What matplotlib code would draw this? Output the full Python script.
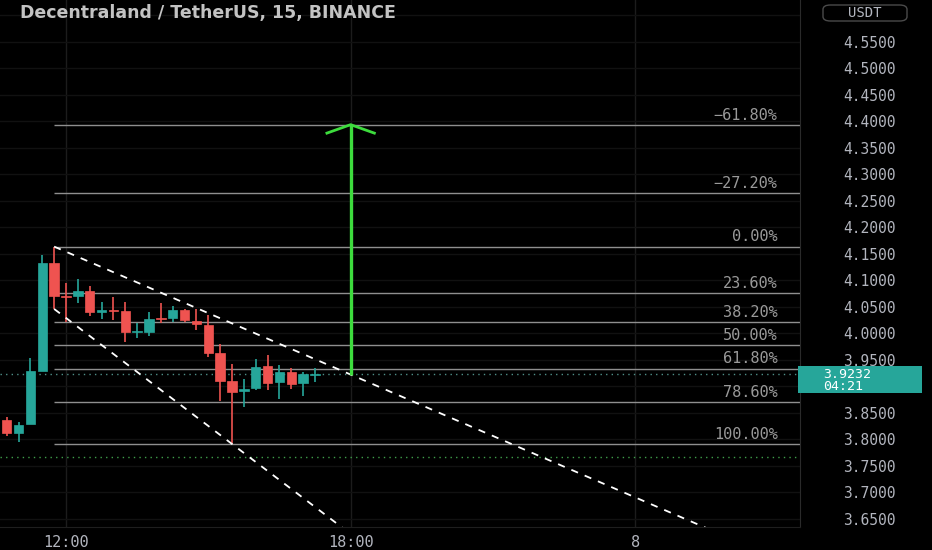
import numpy as np
import pandas as pd
import matplotlib
matplotlib.use('Agg')
import matplotlib.pyplot as plt
from matplotlib.patches import Rectangle, FancyBboxPatch

# Dados das velas (15 min, a partir de 10:45)
inicio = pd.Timestamp('2021-11-07 10:45')
abertura = [3.8368, 3.8123, 3.8292, 3.9298, 4.1325, 4.0713, 4.0713, 4.0808, 4.0411, 4.0443, 4.0430, 4.0023, 4.0034, 4.0298,
            4.0298, 4.0443, 4.0236, 4.0160, 3.9638, 3.9109, 3.8915, 3.8966, 3.9387, 3.9079, 3.9279, 3.9060, 3.9215]
maxima = [3.8430, 3.8336, 3.9538, 4.1481, 4.1638, 4.0958, 4.1023, 4.0902, 4.0600, 4.0683, 4.0589, 4.0204, 4.0400, 4.0581,
          4.0519, 4.0457, 4.0457, 4.0349, 3.9796, 3.9425, 3.9136, 3.9513, 3.9594, 3.9406, 3.9355, 3.9279, 3.9343]
minima = [3.8066, 3.7953, 3.8292, 3.9298, 4.0462, 4.0223, 4.0570, 4.0336, 4.0268, 4.0255, 3.9845, 3.9909, 3.9958, 4.0192,
          4.0223, 4.0211, 4.0066, 3.9562, 3.8732, 3.7915, 3.8619, 3.8934, 3.8934, 3.8758, 3.8947, 3.8821, 3.9091]
fechamento = [3.8128, 3.8274, 3.9292, 4.1330, 4.0708, 4.0694, 4.0808, 4.0411, 4.0443, 4.0425, 4.0023, 4.0047, 4.0279, 4.0274,
              4.0443, 4.0255, 4.0174, 3.9626, 3.9109, 3.8891, 3.8953, 3.9374, 3.9072, 3.9268, 3.9047, 3.9236, 3.9232]

# Fibonacci
fibTopo = 4.1638
fibFundo = 3.7915
fibNiveis = [-0.618, -0.272, 0.0, 0.236, 0.382, 0.5, 0.618, 0.786, 1.0]
fibRotulos = ['\u221261.80%', '\u221227.20%', '0.00%', '23.60%', '38.20%', '50.00%', '61.80%', '78.60%', '100.00%']

# Linhas de tendencia (indice da vela, preco)
linhaSuperior = [(4, 4.1638), (58, 3.6425)]
linhaInferior = [(4, 4.0462), (19, 3.7915)]

precoAtual = 3.9232
contagem = '04:21'
linhaVerde = 3.767
horarios = ['2021-11-07 12:00', '2021-11-07 18:00', '2021-11-08 00:00']
rotulosHorario = ['12:00', '18:00', '8']
ticksPreco = [3.65, 3.70, 3.75, 3.80, 3.85, 3.95, 4.00, 4.05, 4.10, 4.15, 4.20, 4.25, 4.30, 4.35, 4.40, 4.45, 4.50, 4.55]

fundo = '#000000'
verde = '#26a69a'
vermelho = '#ef5350'
cinzaTexto = '#b2b5be'

fig = plt.figure(figsize=(9.32, 5.5), dpi=100, facecolor=fundo)
ax = fig.add_axes([0, 23 / 550, 800 / 932, 527 / 550])
ax.set_facecolor(fundo)

n = len(abertura)
x = np.arange(n)
ax.set_xlim(-0.565, 66.89)
ax.set_ylim(3.6349, 4.629)

# grade
for t in horarios:
    ix = (pd.Timestamp(t) - inicio) / pd.Timedelta('15min')
    ax.axvline(ix, color='#1c1c1c', lw=1, zorder=0)
for p in np.arange(3.65, 4.6001, 0.05):
    ax.axhline(p, color='#111111', lw=1, zorder=0)

# fibonacci
xmax = ax.get_xlim()[1]
for nivel, rotulo in zip(fibNiveis, fibRotulos):
    preco = fibTopo - nivel * (fibTopo - fibFundo)
    ax.hlines(preco, 4, xmax, color='#8f8f8f', lw=1, zorder=1)
    ax.text(65.0, preco + 0.004, rotulo, color='#9a9a9a', fontsize=11, family='DejaVu Sans Mono',
            ha='right', va='bottom', zorder=2)

# linhas pontilhadas
ax.axhline(precoAtual, color='#4f8f88', lw=1, ls=(0, (1, 3)), zorder=1)
ax.axhline(linhaVerde, color='#3f9f4a', lw=1, ls=(0, (1, 3)), zorder=1)

# velas
for i in range(n):
    cor = verde if fechamento[i] >= abertura[i] else vermelho
    ax.vlines(x[i], minima[i], maxima[i], color=cor, lw=1.2, zorder=3)
    base = min(abertura[i], fechamento[i])
    altura = max(abs(fechamento[i] - abertura[i]), 0.0015)
    ax.add_patch(Rectangle((x[i] - 0.4, base), 0.8, altura, facecolor=cor, edgecolor=cor, lw=0.5, zorder=4))

# linhas de tendencia
for (x0, y0), (x1, y1) in [linhaSuperior, linhaInferior]:
    incl = (y1 - y0) / (x1 - x0)
    xs = np.array([x0, x0 + 60])
    ax.plot(xs, y0 + incl * (xs - x0), color='white', lw=1.3, ls=(0, (4, 4)), zorder=5)

# seta verde
(x0, y0), (x1, y1) = linhaSuperior
ixSeta = (pd.Timestamp(horarios[1]) - inicio) / pd.Timedelta('15min')
inicioSeta = y0 + (y1 - y0) / (x1 - x0) * (ixSeta - x0)
topoSeta = fibTopo - fibNiveis[0] * (fibTopo - fibFundo)
corSeta = '#3ddc3d'
ax.plot([ixSeta, ixSeta], [inicioSeta, topoSeta], color=corSeta, lw=2.4, zorder=6, solid_capstyle='butt')
ax.plot([ixSeta - 2.0, ixSeta, ixSeta + 2.0], [topoSeta - 0.016, topoSeta, topoSeta - 0.016],
        color=corSeta, lw=2.0, zorder=6)

# eixos
for lado in ['top', 'left']:
    ax.spines[lado].set_visible(False)
ax.spines['right'].set_color('#2a2a2a')
ax.spines['bottom'].set_color('#1e1e1e')
ax.yaxis.tick_right()
ax.set_yticks(ticksPreco)
ax.yaxis.set_major_formatter('{x:.4f}')
ax.tick_params(axis='y', length=0, pad=50, labelcolor=cinzaTexto, labelsize=10.5)
for lbl in ax.get_yticklabels():
    lbl.set_horizontalalignment('center')
    lbl.set_family('DejaVu Sans Mono')

posHorario = [(pd.Timestamp(t) - inicio) / pd.Timedelta('15min') for t in horarios]
ax.set_xticks(posHorario)
ax.set_xticklabels(rotulosHorario)
ax.tick_params(axis='x', length=0, pad=6, labelcolor=cinzaTexto, labelsize=11)
for lbl in ax.get_xticklabels():
    lbl.set_family('DejaVu Sans Mono')

# titulo
fig.text(20 / 932, 1 - 13 / 550, 'Decentraland / TetherUS, 15, BINANCE', color='#c3c3c3',
         fontsize=12.5, fontweight='bold', ha='left', va='center')

# caixa USDT
fig.add_artist(FancyBboxPatch((823 / 932, 1 - 21 / 550), 84 / 932, 16 / 550,
                              boxstyle='round,pad=0,rounding_size=0.008', facecolor=fundo,
                              edgecolor='#4a4a4a', lw=1, transform=fig.transFigure, zorder=5))
fig.text(865 / 932, 1 - 13 / 550, 'USDT', color=cinzaTexto, fontsize=10, family='DejaVu Sans Mono',
         ha='center', va='center', zorder=6)

# caixa do preco atual
fig.add_artist(Rectangle((798 / 932, 1 - 393 / 550), 124 / 932, 27 / 550, facecolor=verde,
                         edgecolor='none', transform=fig.transFigure, zorder=5))
fig.text(823 / 932, 1 - 374.5 / 550, f'{precoAtual:.4f}', color='white', fontsize=9.5,
         family='DejaVu Sans Mono', ha='left', va='center', zorder=6)
fig.text(823 / 932, 1 - 386.5 / 550, contagem, color='white', fontsize=9.5,
         family='DejaVu Sans Mono', ha='left', va='center', zorder=6)

fig.savefig('out.png', dpi=100, facecolor=fundo)
